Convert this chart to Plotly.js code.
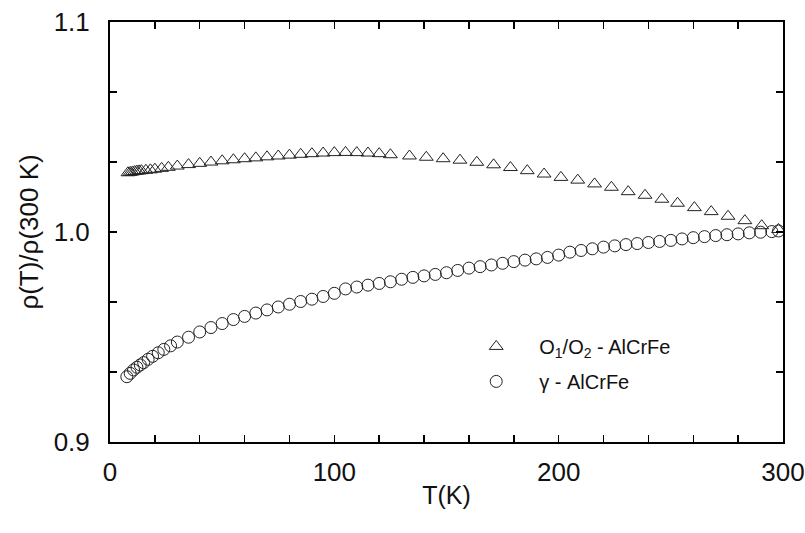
<!DOCTYPE html>
<html>
<head>
<meta charset="utf-8">
<script src="https://cdn.plot.ly/plotly-3.0.1.min.js"></script>
<style>html,body{margin:0;padding:0;background:#fff;} #chart{width:805px;height:533px;}</style>
</head>
<body>
<div id="chart"></div>
<script>
// O1/O2 - AlCrFe (triangles)
const tempO = [8, 9, 10, 11, 12, 13, 14, 16, 18, 20, 23, 26, 30, 35, 40, 45, 50, 55, 60, 65, 70, 75, 80, 85, 90, 95, 100, 105, 110, 115, 120, 125,
  133.5, 141, 148.5, 156, 163.5, 171, 178.5, 186, 193.5, 201, 208.5, 216, 223.5, 231, 238.5, 246, 253, 260.5, 268, 275.5, 283, 290.5, 298];
const rhoO = [1.0282, 1.0284, 1.0286, 1.0288, 1.0290, 1.0291, 1.0292, 1.0294, 1.0296, 1.0299, 1.0303, 1.0308, 1.0314, 1.0321, 1.0327, 1.0333,
  1.0339, 1.0344, 1.0349, 1.0353, 1.0358, 1.0362, 1.0366, 1.0370, 1.0373, 1.0376, 1.0378, 1.0379, 1.0378, 1.0376, 1.0373, 1.0368,
  1.0362, 1.0356, 1.0349, 1.0342, 1.0332, 1.0320, 1.0307, 1.0292, 1.0276, 1.0260, 1.0247, 1.0229, 1.0213, 1.0192, 1.0175, 1.0156,
  1.0137, 1.0116, 1.0097, 1.0075, 1.0054, 1.0030, 1.0012];

// gamma - AlCrFe (circles)
const tempG = [7.5, 9, 10.5, 12, 13.5, 15, 17, 19, 21.5, 24, 27, 30, 35, 40, 45, 50, 55, 60, 65, 70, 75, 80, 85, 90, 95, 100,
  105, 110, 115, 120, 125, 130, 135, 140, 145, 150, 155, 160, 165, 170, 175, 180, 185, 190, 195, 200,
  205, 210, 215, 220, 225, 230, 235, 240, 245, 250, 255, 260, 265, 270, 275, 280, 285, 290, 295, 298];
const rhoG = [0.9311, 0.9327, 0.9343, 0.9356, 0.9367, 0.9378, 0.9394, 0.9408, 0.9425, 0.9441, 0.9458, 0.9476, 0.9499, 0.9524, 0.9545,
  0.9564, 0.9583, 0.9598, 0.9614, 0.9629, 0.9643, 0.9656, 0.9669, 0.9680, 0.9693, 0.9708,
  0.9729, 0.9738, 0.9747, 0.9755, 0.9763, 0.9775, 0.9784, 0.9791, 0.9798, 0.9806, 0.9817, 0.9828, 0.9835, 0.9843, 0.9851,
  0.9859, 0.9866, 0.9872, 0.9879, 0.9890, 0.9904, 0.9912, 0.9920, 0.9928, 0.9934, 0.9940, 0.9945, 0.9950, 0.9955, 0.9960,
  0.9967, 0.9973, 0.9978, 0.9983, 0.9987, 0.9991, 0.9996, 0.9999, 1.0002, 1.0005];

const nameO = 'O<sub>1</sub>/O<sub>2</sub> - AlCrFe';
const nameG = '\u03B3 - AlCrFe';
const xTickVals = [0, 100, 200, 300];
const yTickVals = [0.9, 1.0, 1.1];
const yTickText = ['0.9', '1.0', '1.1'];
const yMinorVals = [0.9333333, 0.9666667, 1.0333333, 1.0666667];

const fontFam = 'Liberation Sans, Arial, sans-serif';

const traces = [
  {x: tempO, y: rhoO, name: nameO, legendgroup: 'a', type: 'scatter', mode: 'markers', cliponaxis: true,
   marker: {symbol: 'triangle-up-open', size: 12, color: '#222', line: {width: 1, color: '#222'}}},
  {x: tempG, y: rhoG, name: nameG, legendgroup: 'b', type: 'scatter', mode: 'markers', cliponaxis: true,
   marker: {symbol: 'circle-open', size: 12, color: '#222', line: {width: 1, color: '#222'}}}
];

const layout = {
  width: 805, height: 533,
  margin: {l: 110, r: 22, t: 22, b: 91},
  paper_bgcolor: '#fff', plot_bgcolor: '#fff',
  font: {family: fontFam, color: '#000', size: 20},
  showlegend: true,
  legend: {x: 0.51, y: 0.274, xanchor: 'left', yanchor: 'top', bgcolor: 'rgba(0,0,0,0)',
           font: {family: fontFam, size: 20, color: '#111'}, itemwidth: 76,
           traceorder: 'grouped', tracegroupgap: 6},
  xaxis: {range: [0, 300], tickvals: xTickVals, ticktext: xTickVals.map(String),
          ticks: 'inside', ticklen: 7, tickwidth: 1.5, tickcolor: '#000',
          minor: {dtick: 20, ticks: 'inside', ticklen: 7, tickwidth: 1.5, tickcolor: '#000'},
          showline: true, linecolor: '#000', linewidth: 2, mirror: 'ticks',
          showgrid: false, zeroline: false, ticklabelstandoff: 6,
          tickfont: {size: 26, family: fontFam, color: '#111'},
          title: {text: 'T(K)', font: {size: 25, family: fontFam, color: '#111'}, standoff: 0}},
  yaxis: {range: [0.9, 1.1], tickvals: yTickVals, ticktext: yTickText,
          ticks: 'inside', ticklen: 7, tickwidth: 1.5, tickcolor: '#000',
          minor: {tickvals: yMinorVals, ticks: 'inside', ticklen: 7, tickwidth: 1.5, tickcolor: '#000'},
          showline: true, linecolor: '#000', linewidth: 2, mirror: 'ticks',
          showgrid: false, zeroline: false, ticklabelstandoff: 13,
          tickfont: {size: 26, family: fontFam, color: '#111'},
          title: {text: '\u03C1(T)/\u03C1(300 K)', font: {size: 26, family: fontFam, color: '#111'}, standoff: 8}}
};

Plotly.newPlot('chart', traces, layout, {staticPlot: true, displayModeBar: false});
</script>
</body>
</html>
